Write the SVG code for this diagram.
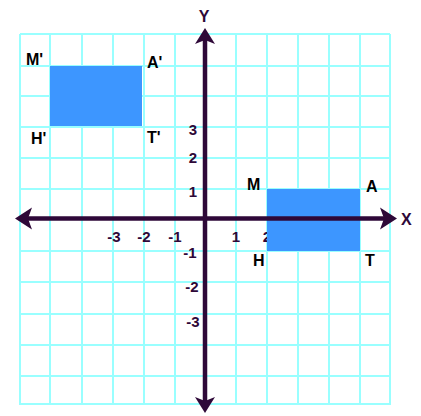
<svg xmlns="http://www.w3.org/2000/svg" width="421" height="416" viewBox="0 0 421 416">
<style>
.g{stroke:#99ffff;stroke-width:2;fill:none}
.ax{stroke:#2e0838;stroke-width:4.5;fill:none}
.ah{fill:#2e0838}
.r{fill:#3d96ff}
.n{font-family:"Liberation Sans",Arial,sans-serif;font-weight:bold;font-size:15px;fill:#2e0838;text-anchor:middle}
.l{font-family:"Liberation Sans",Arial,sans-serif;font-weight:bold;font-size:16px;fill:#000}
</style>
<rect width="421" height="416" fill="#fff"/>
<g id="grid" class="g">
<path d="M20 34H390M20 66H390M20 96H390M20 127H390M20 158H390M20 189H390M20 251H390M20 282H390M20 314H390M20 345H390M20 376H390M20 404H390"/>
<path d="M20 34V405M50 34V405M82 34V405M113 34V405M144 34V405M175 34V405M236 34V405M267 34V405M298 34V405M329 34V405M360 34V405M390 34V405"/>
</g>
<g id="xlabels-under">
<text class="n" x="267" y="242">2</text>
</g>
<g id="rect-prime"><rect class="r" x="50" y="66" width="92" height="60"/></g>
<g id="rect-math"><rect class="r" x="267" y="189" width="93" height="62"/></g>
<g id="axes">
<line class="ax" x1="28" y1="218.5" x2="384" y2="218.5"/>
<line class="ax" x1="205" y1="40" x2="205" y2="401"/>
<polygon class="ah" points="15,218.5 32,207.5 28,218.5 32,229.5"/>
<polygon class="ah" points="397,218.5 380,207.5 384,218.5 380,229.5"/>
<polygon class="ah" points="205,28 195,44 205,40 215,44"/>
<polygon class="ah" points="205,413 195,397 205,401 215,397"/>
</g>
<g id="ticks">
<text class="n" x="193" y="135">3</text>
<text class="n" x="193" y="163">2</text>
<text class="n" x="193" y="197">1</text>
<text class="n" x="190" y="258">-1</text>
<text class="n" x="192" y="292">-2</text>
<text class="n" x="193" y="327">-3</text>
<text class="n" x="114" y="242">-3</text>
<text class="n" x="144" y="242">-2</text>
<text class="n" x="175" y="242">-1</text>
<text class="n" x="236" y="242">1</text>
</g>
<g id="labels">
<text class="l" x="26" y="65">M'</text>
<text class="l" x="147" y="68">A'</text>
<text class="l" x="31" y="144">H'</text>
<text class="l" x="147" y="143">T'</text>
<text class="l" x="247" y="190">M</text>
<text class="l" x="366" y="192">A</text>
<text class="l" x="253" y="266">H</text>
<text class="l" x="365" y="266">T</text>
<text class="l" x="401" y="225" style="fill:#2e0838">X</text>
<text class="l" x="204" y="22" style="fill:#2e0838;text-anchor:middle">Y</text>
</g>
</svg>
